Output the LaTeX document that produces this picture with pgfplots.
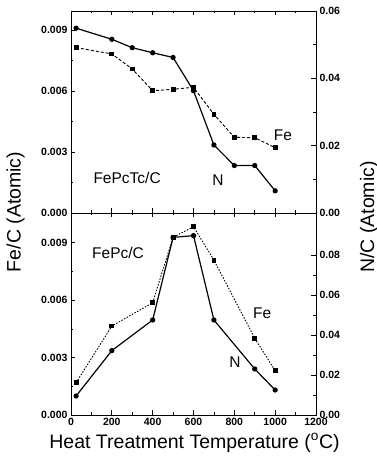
\documentclass[border=0pt]{standalone}
\usepackage{fontspec}
\setmainfont{Liberation Sans}
\usepackage{pgfplots}
\pgfplotsset{compat=1.18}
\tikzset{ann/.style={font=\fontsize{15.5}{18}\selectfont}}
\begin{document}
\begin{tikzpicture}
\useasboundingbox (0,0) rectangle (377pt,464pt);
\pgfplotsset{
  base/.style={width=245pt,height=202pt,scale only axis, xmin=0,xmax=1200,
    xtick={0,200,...,1200}, minor x tick num=1, tick align=inside,
    major tick length=4.5pt, minor tick length=2.5pt,
    every tick/.style={black,line width=0.8pt}, axis line style={line width=0.9pt},
    /pgf/number format/assume math mode=true,
    /pgf/number format/1000 sep={},
    tick label style={font=\bfseries\fontsize{10.5}{12}\selectfont},
    scaled y ticks=false, clip=false},
  leftax/.style={base, ytick pos=left, xtick pos=both, minor y tick num=1,
    yticklabel style={/pgf/number format/.cd,fixed,fixed zerofill,precision=3}},
  rightax/.style={base, axis y line*=right, axis x line=none, minor y tick num=1,
    yticklabel style={/pgf/number format/.cd,fixed,fixed zerofill,precision=2}},
  fe/.style={black, line width=0.9pt, mark=square*, mark size=1.9pt, mark options={solid}},
  nn/.style={black, line width=1.2pt, mark=*, mark size=2pt},
}
% ---------- top panel ----------
\begin{axis}[leftax, at={(71pt,251pt)}, anchor=south west,
  ymin=0, ymax=0.00993, ytick={0,0.003,0.006,0.009}, xticklabels={}]
\addplot[fe, dash pattern=on 3pt off 2pt] coordinates {
 (25,0.00813) (200,0.00782) (300,0.00708) (400,0.00601) (500,0.00608)
 (600,0.00618) (700,0.00485) (800,0.00372) (900,0.00370) (1000,0.00321)};
\node[ann] at (rel axis cs:0.229,0.173) {FePcTc/C};
\node[ann] at (rel axis cs:0.60,0.163) {N};
\node[ann] at (rel axis cs:0.865,0.386) {Fe};
\end{axis}
\begin{axis}[rightax, at={(71pt,251pt)}, anchor=south west,
  ymin=0, ymax=0.06, ytick={0,0.02,0.04,0.06}]
\addplot[nn] coordinates {
 (25,0.0549) (200,0.0516) (300,0.0491) (400,0.0476) (500,0.0462)
 (600,0.0363) (700,0.0202) (800,0.0141) (900,0.0141) (1000,0.0066)};
\end{axis}
% ---------- bottom panel ----------
\begin{axis}[leftax, at={(71pt,49pt)}, anchor=south west,
  ymin=0, ymax=0.01056, ytick={0,0.003,0.006,0.009}]
\addplot[fe, dash pattern=on 1.5pt off 1.5pt] coordinates {
 (25,0.00169) (200,0.00465) (400,0.00587) (500,0.00929) (600,0.00984)
 (700,0.00810) (900,0.00401) (1000,0.00232)};
\node[ann] at (rel axis cs:0.192,0.802) {FePc/C};
\node[ann] at (rel axis cs:0.78,0.505) {Fe};
\node[ann] at (rel axis cs:0.669,0.262) {N};
\end{axis}
\begin{axis}[rightax, at={(71pt,49pt)}, anchor=south west,
  ymin=0, ymax=0.101, ytick={0,0.02,0.04,0.06,0.08}]
\addplot[nn] coordinates {
 (25,0.0095) (200,0.0322) (400,0.0475) (500,0.0888) (600,0.0897)
 (700,0.0475) (900,0.0230) (1000,0.0125)};
\end{axis}
% ---------- axis titles ----------
\node[rotate=90, font=\fontsize{19.5}{22}\selectfont] at (15.5pt,252pt) {Fe/C (Atomic)};
\node[rotate=90, font=\fontsize{19.5}{22}\selectfont] at (369pt,247pt) {N/C (Atomic)};
\node[font=\fontsize{19.5}{22}\selectfont] at (194.5pt,21pt) {Heat Treatment Temperature (\textsuperscript{o}C)};
\end{tikzpicture}
\end{document}
